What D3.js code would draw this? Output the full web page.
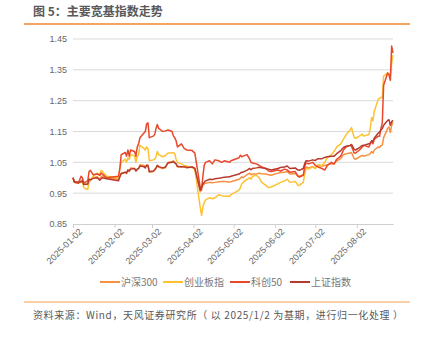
<!DOCTYPE html>
<html>
<head>
<meta charset="utf-8">
<script src="https://cdn.jsdelivr.net/npm/d3@7/dist/d3.min.js"></script>
<style>
  html, body { margin: 0; padding: 0; background: #fff; }
  svg { display: block; font-family: "Noto Sans CJK SC", "Noto Sans", sans-serif; }
</style>
</head>
<body>
<svg id="chart" width="426" height="344"></svg>
<script>
// Trading dates (2025) and index values normalised to 2025-01-02 = 1
const dates = [
  "01-02","01-03","01-06","01-08","01-09","01-10","01-13","01-14","01-15","01-17",
  "01-20","01-22","01-23","01-24","01-27","02-05","02-06","02-07","02-10","02-11",
  "02-12","02-13","02-14","02-17","02-18","02-19","02-20","02-21","02-24","02-25",
  "02-26","02-27","02-28","03-03","03-04","03-05","03-06","03-07","03-10","03-12",
  "03-14","03-17","03-18","03-19","03-20","03-21","03-24","03-26","03-28","04-01",
  "04-03","04-07","04-08","04-09","04-10","04-11","04-14","04-16","04-18","04-21",
  "04-23","04-25","04-29","04-30","05-06","05-07","05-08","05-09","05-12","05-14",
  "05-15","05-16","05-19","05-21","05-23","05-26","05-28","05-30","06-04","06-06",
  "06-09","06-11","06-13","06-17","06-19","06-20","06-23","06-24","06-25","06-27",
  "06-30","07-02","07-04","07-07","07-09","07-11","07-14","07-16","07-18","07-21",
  "07-23","07-25","07-28","07-29","07-31","08-01","08-04","08-06","08-07","08-11",
  "08-12","08-13","08-14","08-15","08-18","08-19","08-20","08-21","08-22","08-25",
  "08-26","08-27","08-28","08-29"
];

const hs300 = [
  1.000,0.988,0.986,0.990,0.993,0.980,0.978,0.995,0.994,1.000,
  1.003,0.996,1.003,1.006,1.000,0.995,1.005,1.015,1.018,1.014,
  1.025,1.020,1.032,1.030,1.022,1.028,1.030,1.042,1.040,1.035,
  1.042,1.040,1.018,1.020,1.025,1.030,1.040,1.035,1.030,1.032,
  1.050,1.052,1.055,1.050,1.045,1.035,1.035,1.036,1.032,1.035,
  1.030,0.955,0.965,0.975,0.980,0.982,0.985,0.984,0.985,0.987,
  0.988,0.988,0.986,0.987,0.995,0.998,1.003,1.000,1.010,1.015,
  1.010,1.012,1.012,1.015,1.013,1.012,1.010,1.008,1.015,1.017,
  1.018,1.020,1.012,1.014,1.005,1.005,1.010,1.022,1.035,1.032,
  1.036,1.032,1.040,1.038,1.040,1.042,1.045,1.045,1.055,1.062,
  1.075,1.078,1.080,1.082,1.062,1.060,1.068,1.072,1.070,1.075,
  1.078,1.085,1.080,1.090,1.100,1.098,1.104,1.106,1.130,1.160,
  1.165,1.147,1.170,1.180
];

const chinext = [
  1.000,0.985,0.982,0.985,0.990,0.968,0.962,0.985,0.990,1.005,
  1.015,1.010,1.024,1.020,1.005,1.000,1.030,1.050,1.060,1.050,
  1.065,1.060,1.075,1.070,1.050,1.070,1.075,1.105,1.095,1.090,
  1.100,1.095,1.055,1.058,1.060,1.068,1.085,1.075,1.068,1.072,
  1.080,1.080,1.082,1.078,1.060,1.050,1.045,1.040,1.038,1.032,
  1.028,0.905,0.878,0.905,0.920,0.928,0.935,0.932,0.935,0.945,
  0.942,0.940,0.940,0.945,0.960,0.968,0.980,0.985,0.995,1.000,
  0.995,1.005,1.008,1.000,0.985,0.975,0.968,0.970,0.980,0.985,
  0.990,0.995,0.985,0.988,0.975,0.975,0.985,1.010,1.030,1.028,
  1.035,1.030,1.042,1.040,1.050,1.065,1.075,1.085,1.100,1.110,
  1.125,1.140,1.155,1.163,1.130,1.128,1.135,1.142,1.135,1.140,
  1.160,1.195,1.185,1.215,1.255,1.258,1.260,1.260,1.330,1.340,
  1.335,1.320,1.370,1.398
];

const star50 = [
  1.000,0.985,0.982,1.005,1.000,0.983,0.990,1.020,1.024,1.010,
  1.012,1.008,1.015,1.012,1.000,1.005,1.030,1.075,1.082,1.070,
  1.090,1.070,1.090,1.085,1.070,1.100,1.110,1.130,1.145,1.150,
  1.175,1.178,1.130,1.135,1.140,1.160,1.173,1.160,1.150,1.152,
  1.155,1.150,1.135,1.130,1.120,1.100,1.110,1.095,1.090,1.088,
  1.080,0.970,0.960,1.005,1.040,1.050,1.055,1.045,1.058,1.055,
  1.050,1.055,1.050,1.055,1.065,1.073,1.068,1.070,1.075,1.060,
  1.050,1.048,1.045,1.040,1.035,1.030,1.022,1.020,1.025,1.022,
  1.028,1.025,1.018,1.020,1.005,1.002,1.008,1.035,1.048,1.045,
  1.050,1.040,1.035,1.030,1.025,1.040,1.050,1.045,1.060,1.070,
  1.090,1.100,1.105,1.102,1.080,1.080,1.090,1.100,1.105,1.100,
  1.110,1.118,1.110,1.125,1.135,1.135,1.160,1.178,1.300,1.340,
  1.335,1.316,1.427,1.405
];

const sse = [
  1.000,0.987,0.985,0.987,0.990,0.978,0.980,0.995,0.993,0.998,
  1.000,0.992,0.997,1.000,0.997,0.990,1.003,1.013,1.018,1.015,
  1.025,1.022,1.028,1.030,1.022,1.028,1.030,1.038,1.036,1.032,
  1.040,1.040,1.020,1.022,1.026,1.032,1.040,1.036,1.032,1.035,
  1.048,1.050,1.052,1.048,1.045,1.037,1.036,1.036,1.033,1.035,
  1.030,0.960,0.970,0.980,0.985,0.990,0.995,0.994,0.997,0.998,
  1.000,1.002,1.003,1.005,1.012,1.015,1.018,1.018,1.025,1.030,
  1.026,1.030,1.032,1.034,1.032,1.030,1.028,1.025,1.030,1.033,
  1.035,1.038,1.030,1.032,1.025,1.024,1.030,1.045,1.055,1.054,
  1.058,1.056,1.062,1.062,1.066,1.068,1.070,1.070,1.078,1.088,
  1.098,1.102,1.105,1.108,1.092,1.090,1.098,1.105,1.105,1.110,
  1.112,1.120,1.118,1.128,1.145,1.148,1.155,1.160,1.170,1.186,
  1.188,1.170,1.182,1.186
];

const seriesNames = ["沪深300", "创业板指", "科创50", "上证指数"];
const seriesColors = ["#F7913F", "#FDC230", "#E8482C", "#B73A2E"];
const yTicks = [0.85, 0.95, 1.05, 1.15, 1.25, 1.35, 1.45];
const xTickDates = ["2025-01-02","2025-02-02","2025-03-02","2025-04-02",
                    "2025-05-02","2025-06-02","2025-07-02","2025-08-02"];

const parse = d3.timeParse("%Y-%m-%d");
const dateObjs = dates.map(d => parse("2025-" + d));
const allSeries = [hs300, chinext, star50, sse].map((vals, i) => ({
  name: seriesNames[i],
  color: seriesColors[i],
  points: vals.map((v, j) => ({ date: dateObjs[j], value: v }))
}));

const svg = d3.select("#chart");
const margin = { left: 73, right: 33 };
const W = 426;

const x = d3.scaleTime()
  .domain([parse("2025-01-02"), parse("2025-08-29")])
  .range([margin.left, W - margin.right]);
const y = d3.scaleLinear()
  .domain([0.85, 1.45])
  .range([224, 39]);

// Title and rules
svg.append("text")
  .attr("x", 33).attr("y", 16)
  .attr("font-size", 12).attr("font-weight", "bold")
  .attr("fill", "#595959")
  .text("图 5：主要宽基指数走势");
svg.append("line")
  .attr("x1", 24).attr("x2", 410).attr("y1", 24).attr("y2", 24)
  .attr("stroke", "#F5A460").attr("stroke-width", 2);

// Gridlines
svg.append("g")
  .selectAll("line")
  .data(yTicks.slice(1))
  .join("line")
  .attr("x1", x.range()[0]).attr("x2", x.range()[1])
  .attr("y1", d => y(d)).attr("y2", d => y(d))
  .attr("stroke", "#DADADA").attr("stroke-width", 1);

// Y axis labels
const yAxis = d3.axisLeft(y).tickValues(yTicks).tickFormat(d3.format(".2f")).tickSize(0).tickPadding(6);
const gy = svg.append("g").attr("transform", `translate(${margin.left},0)`).call(yAxis);
gy.select(".domain").remove();
gy.selectAll("text").attr("font-size", 9).attr("fill", "#666")
  .attr("font-family", "Liberation Sans, Arial, sans-serif");

// X axis
const xAxis = d3.axisBottom(x)
  .tickValues(xTickDates.map(parse))
  .tickFormat(d3.timeFormat("%Y-%m-%d"))
  .tickSize(4).tickSizeOuter(0);
const gx = svg.append("g").attr("transform", `translate(0,${y(0.85)})`).call(xAxis);
gx.select(".domain").attr("stroke", "#CFCFCF");
gx.selectAll(".tick line").attr("stroke", "#CFCFCF");
gx.selectAll("text")
  .attr("font-size", 9).attr("fill", "#666")
  .attr("font-family", "Liberation Sans, Arial, sans-serif")
  .attr("text-anchor", "end")
  .attr("dx", "0.1em").attr("dy", "0.6em")
  .attr("transform", "rotate(-45)");

// Lines
const line = d3.line().x(d => x(d.date)).y(d => y(d.value));
svg.append("g")
  .selectAll("path")
  .data(allSeries)
  .join("path")
  .attr("d", d => line(d.points))
  .attr("fill", "none")
  .attr("stroke", d => d.color)
  .attr("stroke-width", 1.5)
  .attr("stroke-linejoin", "round");

// Legend
const legendX = [100, 163, 230, 290];
const lg = svg.append("g").selectAll("g").data(allSeries).join("g")
  .attr("transform", (d, i) => `translate(${legendX[i]},282)`);
lg.append("line").attr("x1", 0).attr("x2", 20).attr("y1", 0).attr("y2", 0)
  .attr("stroke", d => d.color).attr("stroke-width", 2);
lg.append("text").attr("x", 21).attr("y", 4)
  .attr("font-size", 10).attr("fill", "#777")
  .text(d => d.name);

// Footer
svg.append("line")
  .attr("x1", 24).attr("x2", 410).attr("y1", 302).attr("y2", 302)
  .attr("stroke", "#F7A050").attr("stroke-width", 1.2);
svg.append("text")
  .attr("x", 33).attr("y", 319)
  .attr("font-size", 10).attr("fill", "#595959")
  .attr("textLength", 370).attr("lengthAdjust", "spacing")
  .text("资料来源：Wind，天风证券研究所（ 以 2025/1/2 为基期，进行归一化处理 ）");
</script>
</body>
</html>
